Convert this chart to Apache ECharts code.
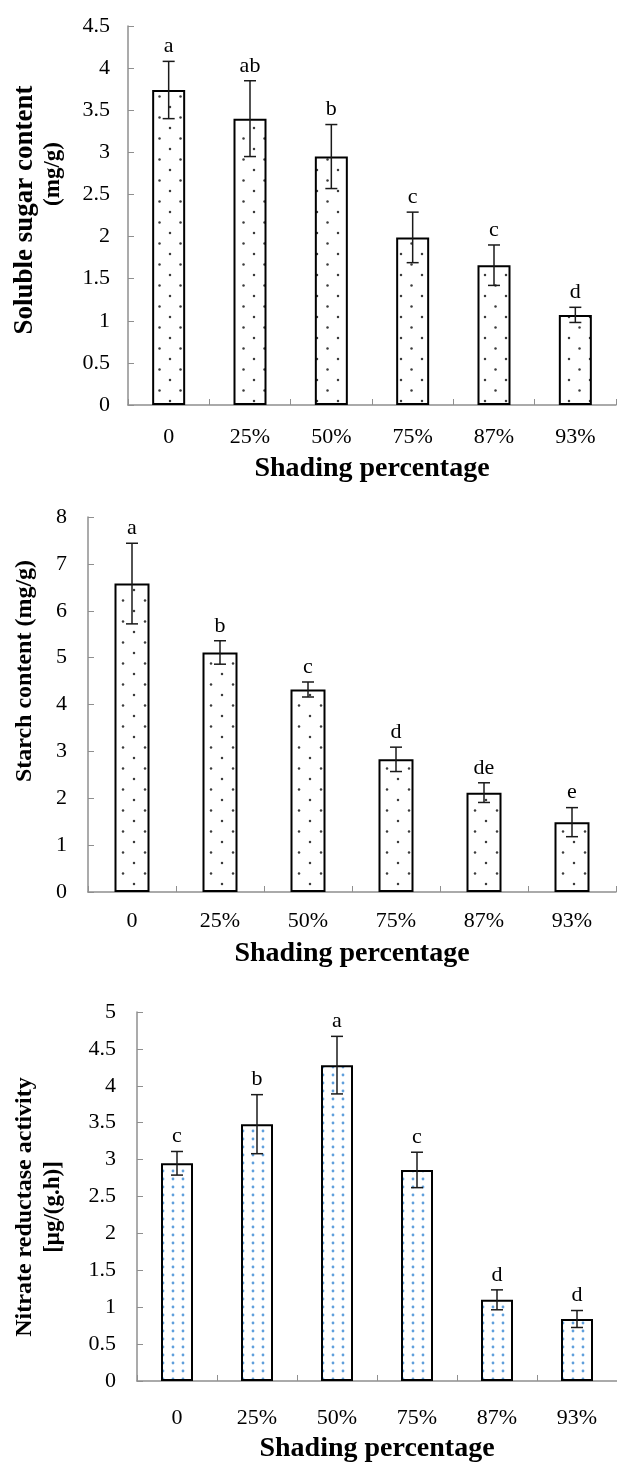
<!DOCTYPE html>
<html>
<head>
<meta charset="utf-8">
<script src="https://cdn.jsdelivr.net/npm/echarts@6/dist/echarts.min.js"></script>
<style>
html,body{margin:0;padding:0;background:#fff;}
#chart{width:617px;height:1464px;}
</style>
</head>
<body>
<div id="chart"></div>
<script>
const categories = ['0', '25%', '50%', '75%', '87%', '93%'];

const sugarMean = [3.74, 3.40, 2.95, 1.99, 1.66, 1.07];
const sugarErr = [0.34, 0.45, 0.38, 0.30, 0.24, 0.09];
const sugarLetters = ['a', 'ab', 'b', 'c', 'c', 'd'];

const starchMean = [6.58, 5.11, 4.32, 2.83, 2.12, 1.49];
const starchErr = [0.86, 0.25, 0.16, 0.26, 0.21, 0.31];
const starchLetters = ['a', 'b', 'c', 'd', 'de', 'e'];

const nitrateMean = [2.95, 3.48, 4.28, 2.86, 1.10, 0.84];
const nitrateErr = [0.16, 0.40, 0.39, 0.24, 0.135, 0.115];
const nitrateLetters = ['c', 'b', 'a', 'c', 'd', 'd'];

const sugarTicks = { min: 0, max: 4.5, interval: 0.5 };
const starchTicks = { min: 0, max: 8, interval: 1 };
const nitrateTicks = { min: 0, max: 5, interval: 0.5 };

const xTitle = 'Shading percentage';
const sugarTitle = ['Soluble sugar content', '(mg/g)'];
const starchTitle = 'Starch content (mg/g)';
const nitrateTitle = ['Nitrate reductase activity', '[μg/(g.h)]'];

const SERIF = '"Liberation Serif", "Times New Roman", serif';

function staggerPattern(w, h, color) {
  const c = document.createElement('canvas');
  c.width = w; c.height = h;
  const ctx = c.getContext('2d');
  ctx.fillStyle = '#fff';
  ctx.fillRect(0, 0, w, h);
  ctx.fillStyle = color;
  ctx.beginPath(); ctx.arc(2, 2, 1.25, 0, Math.PI * 2); ctx.fill();
  ctx.beginPath(); ctx.arc(2 + w / 2, 2 + h / 2, 1.25, 0, Math.PI * 2); ctx.fill();
  return c;
}
function gridPattern(w, h, color) {
  const c = document.createElement('canvas');
  c.width = w; c.height = h;
  const ctx = c.getContext('2d');
  ctx.fillStyle = '#fff';
  ctx.fillRect(0, 0, w, h);
  ctx.fillStyle = color;
  ctx.beginPath(); ctx.arc(3, 3, 1.4, 0, Math.PI * 2); ctx.fill();
  return c;
}

const pat1 = staggerPattern(21, 21, '#3c3c3c');
const pat2 = staggerPattern(22, 21, '#3c3c3c');
const pat3 = gridPattern(10, 8, '#5f9fdc');

const grids = [
  { left: 128, top: 26, width: 488, height: 379 },
  { left: 88, top: 517, width: 528, height: 375 },
  { left: 137, top: 1012, width: 485, height: 374 }
];

function xAxisFor(i, labelMargin, nameGap) {
  return {
    type: 'category', gridIndex: i, data: categories,
    axisLine: { show: true, lineStyle: { color: '#8f8f8f', width: 1.5 } },
    axisTick: { show: true, inside: true, length: 6, lineStyle: { color: '#8f8f8f', width: 1 } },
    axisLabel: { color: '#000', fontSize: 22, fontFamily: SERIF, margin: labelMargin },
    name: xTitle, nameLocation: 'middle', nameGap: nameGap,
    nameTextStyle: { color: '#000', fontSize: 28, fontWeight: 'bold', fontFamily: SERIF },
    splitLine: { show: false }
  };
}
function yAxisFor(i, ticks, labelMargin) {
  return {
    type: 'value', gridIndex: i, min: ticks.min, max: ticks.max, interval: ticks.interval,
    axisLine: { show: true, lineStyle: { color: '#8f8f8f', width: 1.5 } },
    axisTick: { show: true, inside: true, length: 6, lineStyle: { color: '#8f8f8f', width: 1 } },
    axisLabel: { color: '#000', fontSize: 22, fontFamily: SERIF, margin: labelMargin },
    splitLine: { show: false }
  };
}

function barSeries(i, means, pattern, barWidth) {
  return {
    type: 'bar', xAxisIndex: i, yAxisIndex: i, data: means, barWidth: barWidth,
    itemStyle: { color: { image: pattern, repeat: 'repeat' }, borderColor: '#000', borderWidth: 2 },
    silent: true, animation: false, z: 2
  };
}

function errSeries(i, means, errs, letters) {
  return {
    type: 'custom', xAxisIndex: i, yAxisIndex: i, clip: false, animation: false, z: 5,
    data: means.map((m, k) => [k, m, errs[k]]),
    encode: { x: 0, y: 1 },
    renderItem: function (params, api) {
      const idx = api.value(0), m = api.value(1), e = api.value(2);
      const top = api.coord([idx, m + e]);
      const bot = api.coord([idx, m - e]);
      const cap = 6;
      const ls = { stroke: '#1a1a1a', lineWidth: 1.5 };
      return {
        type: 'group',
        children: [
          { type: 'line', shape: { x1: top[0], y1: top[1], x2: bot[0], y2: bot[1] }, style: ls },
          { type: 'line', shape: { x1: top[0] - cap, y1: top[1], x2: top[0] + cap, y2: top[1] }, style: ls },
          { type: 'line', shape: { x1: bot[0] - cap, y1: bot[1], x2: bot[0] + cap, y2: bot[1] }, style: ls },
          { type: 'text', style: {
              text: letters[params.dataIndex], x: top[0], y: top[1] - 4,
              textAlign: 'center', textVerticalAlign: 'bottom',
              fontSize: 22, fontFamily: SERIF, fill: '#000' } }
        ]
      };
    }
  };
}

function vTitle(text, cx, cy, size) {
  return {
    type: 'text', x: cx, y: cy, rotation: Math.PI / 2,
    style: { text: text, textAlign: 'center', textVerticalAlign: 'middle',
      fontSize: size, fontWeight: 'bold', fontFamily: SERIF, fill: '#000' }
  };
}

const chart = echarts.init(document.getElementById('chart'), null, { renderer: 'canvas' });
chart.setOption({
  backgroundColor: '#fff',
  animation: false,
  grid: grids,
  xAxis: [xAxisFor(0, 21, 50), xAxisFor(1, 18, 48), xAxisFor(2, 26, 54)],
  yAxis: [yAxisFor(0, sugarTicks, 18), yAxisFor(1, starchTicks, 21), yAxisFor(2, nitrateTicks, 21)],
  series: [
    barSeries(0, sugarMean, pat1, 33),
    errSeries(0, sugarMean, sugarErr, sugarLetters),
    barSeries(1, starchMean, pat2, 35),
    errSeries(1, starchMean, starchErr, starchLetters),
    barSeries(2, nitrateMean, pat3, 32),
    errSeries(2, nitrateMean, nitrateErr, nitrateLetters)
  ],
  graphic: [
    vTitle(sugarTitle[0], 25, 210, 27),
    vTitle(sugarTitle[1], 53, 174, 23),
    vTitle(starchTitle, 25, 671, 24),
    vTitle(nitrateTitle[0], 25, 1207, 24),
    vTitle(nitrateTitle[1], 53, 1207, 23)
  ]
});
</script>
</body>
</html>
